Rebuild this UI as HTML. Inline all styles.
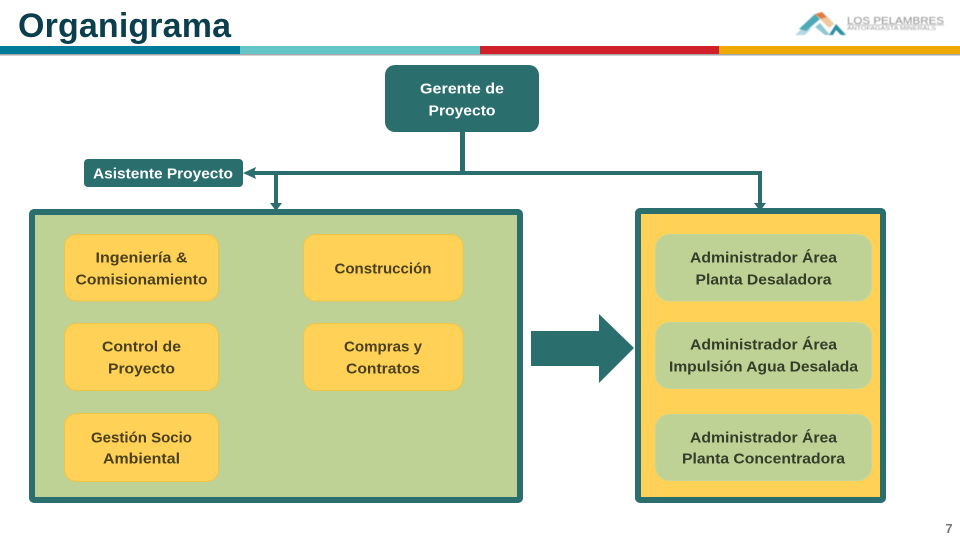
<!DOCTYPE html>
<html><head><meta charset="utf-8"><style>
html,body{margin:0;padding:0;background:#fff}
svg{display:block}
text{font-family:"Liberation Sans",sans-serif;font-weight:bold;text-anchor:middle}
.d{font-size:15px;fill:#4a3f1e}
.g{font-size:15px;fill:#333d28}
.w{font-size:15px;fill:#fff}
.y{fill:#ffd257;stroke:#efc445;stroke-width:1}
.b{fill:#bfd296;stroke:#c4d69c;stroke-width:1}
</style></head><body>
<svg width="960" height="540" viewBox="0 0 960 540" xmlns="http://www.w3.org/2000/svg">
<defs><filter id="s" x="-5%" y="-20%" width="110%" height="140%"><feGaussianBlur stdDeviation="0.45"/></filter></defs>
<rect width="960" height="540" fill="#fff"/>
<text x="124.5" y="37" font-size="34" fill="#0b3f4e" textLength="213" lengthAdjust="spacing">Organigrama</text>
<rect x="0" y="54" width="960" height="1.5" fill="#a5a5a5"/>
<rect x="0" y="46" width="240" height="8" fill="#007a99"/>
<rect x="240" y="46" width="240" height="8" fill="#63c5c5"/>
<rect x="480" y="46" width="239" height="8" fill="#d0202a"/>
<rect x="719" y="46" width="241" height="8" fill="#eeaa00"/>

<!-- logo -->
<g filter="url(#s)">
<polygon points="795,35 806,25 811,29 805,35" fill="#b5d9e0"/>
<polygon points="799,29 815,14 820,19 806,31" fill="#4ba9b8"/>
<polygon points="815,14 822,12 828,18 822,20" fill="#dd7f45"/>
<polygon points="820,19 828,17 834,24 829,28" fill="#efc9a0"/>
<polygon points="815,27 820,23 830,35 825,35" fill="#8fc8d3"/>
<polygon points="829,35 836,24 846,35 841,35 836,30 833,35" fill="#2f8ea3"/>
<text x="895.5" y="24" font-size="10" fill="#8c8c8c" style="font-weight:normal" textLength="97" lengthAdjust="spacingAndGlyphs">LOS PELAMBRES</text>
<rect x="847" y="24.5" width="97" height="0.8" fill="#b5b5b5"/>
<text x="891.5" y="30" font-size="5.5" fill="#999" style="font-weight:normal" textLength="89" lengthAdjust="spacingAndGlyphs">ANTOFAGASTA MINERALS</text>
</g>

<!-- connectors -->
<rect x="460" y="131" width="5" height="42" fill="#2a6e6e"/>
<rect x="250" y="171" width="512" height="4" fill="#2a6e6e"/>
<polygon points="243,173 256,167 254,173 256,179" fill="#2a6e6e"/>
<rect x="274" y="173" width="4" height="32" fill="#2a6e6e"/>
<polygon points="270,203 282,203 276,211" fill="#2a6e6e"/>
<rect x="758" y="173" width="4" height="32" fill="#2a6e6e"/>
<polygon points="754,203 766,203 760,211" fill="#2a6e6e"/>

<!-- top nodes -->
<rect x="385" y="65" width="154" height="67" rx="10" fill="#2a6e6e"/>
<text class="w" x="462" y="93.5" textLength="84" lengthAdjust="spacingAndGlyphs">Gerente de</text>
<text class="w" x="462" y="115.5" textLength="67" lengthAdjust="spacingAndGlyphs">Proyecto</text>
<rect x="84" y="159" width="159" height="28" rx="4" fill="#2a6e6e"/>
<text class="w" x="163" y="178.5" textLength="140" lengthAdjust="spacingAndGlyphs">Asistente Proyecto</text>

<!-- panels -->
<rect x="32" y="212" width="488" height="288" rx="2" fill="#bfd296" stroke="#2a6e6e" stroke-width="6"/>
<rect x="638" y="211" width="245" height="289" rx="2" fill="#ffd257" stroke="#2a6e6e" stroke-width="6"/>

<!-- yellow -->
<rect class="y" x="64.5" y="234.5" width="154" height="66.5" rx="12"/>
<text class="d" x="141.5" y="262.5" textLength="92" lengthAdjust="spacingAndGlyphs">Ingeniería &amp;</text>
<text class="d" x="141.5" y="284.5" textLength="132" lengthAdjust="spacingAndGlyphs">Comisionamiento</text>
<rect class="y" x="303.5" y="234.5" width="159.5" height="66.5" rx="12"/>
<text class="d" x="383" y="273.5" textLength="97" lengthAdjust="spacingAndGlyphs">Construcción</text>
<rect class="y" x="64.5" y="323.5" width="154" height="67" rx="12"/>
<text class="d" x="141.5" y="351.5" textLength="79" lengthAdjust="spacingAndGlyphs">Control de</text>
<text class="d" x="141.5" y="373.5" textLength="67" lengthAdjust="spacingAndGlyphs">Proyecto</text>
<rect class="y" x="303.5" y="323.5" width="159.5" height="67" rx="12"/>
<text class="d" x="383" y="351.5" textLength="78" lengthAdjust="spacingAndGlyphs">Compras y</text>
<text class="d" x="383" y="373.5" textLength="74" lengthAdjust="spacingAndGlyphs">Contratos</text>
<rect class="y" x="64.5" y="413.5" width="154" height="68" rx="12"/>
<text class="d" x="141.5" y="442.5" textLength="101" lengthAdjust="spacingAndGlyphs">Gestión Socio</text>
<text class="d" x="141.5" y="463.5" textLength="77" lengthAdjust="spacingAndGlyphs">Ambiental</text>

<!-- arrow -->
<polygon points="531,331 599,331 599,314 634,348 599,383 599,366 531,366" fill="#2a6e6e"/>

<!-- green -->
<rect class="b" x="655.5" y="234.5" width="216" height="66.5" rx="14"/>
<text class="g" x="763.5" y="262.5" textLength="147" lengthAdjust="spacingAndGlyphs">Administrador Área</text>
<text class="g" x="763.5" y="284.5" textLength="136" lengthAdjust="spacingAndGlyphs">Planta Desaladora</text>
<rect class="b" x="655.5" y="322.5" width="216" height="66" rx="14"/>
<text class="g" x="763.5" y="349.5" textLength="147" lengthAdjust="spacingAndGlyphs">Administrador Área</text>
<text class="g" x="763.5" y="371.5" textLength="189" lengthAdjust="spacingAndGlyphs">Impulsión Agua Desalada</text>
<rect class="b" x="655.5" y="414.5" width="216" height="66" rx="14"/>
<text class="g" x="763.5" y="442.5" textLength="147" lengthAdjust="spacingAndGlyphs">Administrador Área</text>
<text class="g" x="763.5" y="463.5" textLength="163" lengthAdjust="spacingAndGlyphs">Planta Concentradora</text>

<text x="949" y="533" font-size="13" fill="#777">7</text>
</svg>
</body></html>
